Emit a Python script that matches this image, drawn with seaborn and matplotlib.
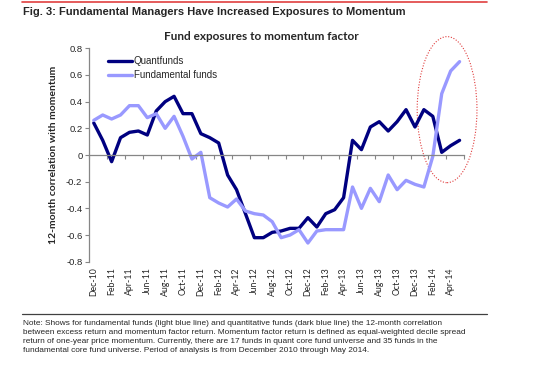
import pandas as pd
import seaborn as sns
import matplotlib.pyplot as plt
from matplotlib.lines import Line2D
from matplotlib.patches import Ellipse

months = list(pd.date_range("2010-12-01", periods=42, freq="MS").strftime("%b-%y"))

quant = [0.24, 0.11, -0.05, 0.13, 0.17, 0.18, 0.15, 0.33, 0.40, 0.44,
         0.31, 0.31, 0.16, 0.13, 0.09, -0.15, -0.26, -0.44, -0.62, -0.62,
         -0.58, -0.57, -0.55, -0.55, -0.47, -0.54, -0.44, -0.41, -0.32, 0.11,
         0.04, 0.21, 0.25, 0.18, 0.25, 0.34, 0.21, 0.34, 0.29, 0.02, 0.07, 0.11]
fundamental = [0.26, 0.30, 0.27, 0.30, 0.37, 0.37, 0.28, 0.31, 0.20, 0.29,
               0.14, -0.03, 0.02, -0.32, -0.36, -0.39, -0.33, -0.42, -0.44, -0.45,
               -0.50, -0.62, -0.60, -0.56, -0.66, -0.57, -0.56, -0.56, -0.56, -0.24,
               -0.40, -0.25, -0.35, -0.15, -0.26, -0.19, -0.22, -0.24, -0.01, 0.46, 0.63, 0.70]
series_names = ["Quantfunds", "Fundamental funds"]
colors = ["#000080", "#9999FF"]
yticks = [-0.8, -0.6, -0.4, -0.2, 0, 0.2, 0.4, 0.6, 0.8]

note = ("Note: Shows for fundamental funds (light blue line) and quantitative funds (dark blue line) the 12-month correlation\n"
        "between excess return and momentum factor return. Momentum factor return is defined as equal-weighted decile spread\n"
        "return of one-year price momentum. Currently, there are 17 funds in quant core fund universe and 35 funds in the\n"
        "fundamental core fund universe. Period of analysis is from December 2010 through May 2014.")

sns.set_style("white")
plt.rcParams["font.family"] = ["Liberation Sans", "DejaVu Sans"]

df = pd.DataFrame({
    "idx": list(range(len(months))) * 2,
    "value": quant + fundamental,
    "series": [series_names[0]] * len(quant) + [series_names[1]] * len(fundamental),
})

fig = plt.figure(figsize=(5.5, 3.66), dpi=100)
ax = fig.add_axes([0.1624, 0.285, 0.6813, 0.583])

sns.lineplot(data=df, x="idx", y="value", hue="series", hue_order=series_names,
             palette=colors, linewidth=2.4, ax=ax, legend=False)

ax.set_xlim(-0.5, len(months) - 0.5)
ax.set_ylim(-0.8, 0.8)
ax.set_yticks(yticks)
ax.set_yticklabels([f"{v:g}" for v in yticks], fontsize=6.8)
ax.tick_params(axis="y", length=3, width=0.8, color="#868686", pad=2, direction="out", left=True)

for s in ["top", "right"]:
    ax.spines[s].set_visible(False)
ax.spines["left"].set_color("#868686")
ax.spines["left"].set_linewidth(0.9)
ax.spines["bottom"].set_position(("data", 0))
ax.spines["bottom"].set_color("#868686")
ax.spines["bottom"].set_linewidth(0.9)
ax.set_xticks([i - 0.5 for i in range(0, len(months) + 1, 2)])
ax.set_xticklabels([])
ax.tick_params(axis="x", length=3, width=0.8, color="#868686", direction="out", bottom=True)

sec = ax.secondary_xaxis("bottom")
sec.spines["bottom"].set_visible(False)
sec.set_xticks(range(0, len(months), 2))
sec.set_xticklabels(months[::2], rotation=90, fontsize=6.3, family=["Lato", "DejaVu Sans"])
sec.tick_params(length=0, pad=4)

ax.set_xlabel("")
ax.set_ylabel("12-month correlation with momentum", fontsize=7.5, fontweight="bold",
              family=["Lato", "DejaVu Sans"], labelpad=6)

handles = [Line2D([], [], color=c, lw=2.4) for c in colors]
ax.legend(handles, series_names, loc="upper left", bbox_to_anchor=(0.035, 0.99),
          frameon=False, fontsize=7, handlelength=2.4, handletextpad=0.2,
          labelspacing=0.4, borderaxespad=0.2)

ax.add_patch(Ellipse((39.6, 0.34), 6.7, 1.095, fill=False, ec="#E03C3C",
                     ls=(0, (1, 1.5)), lw=0.8, clip_on=False))

fig.text(261 / 550, 1 - 37 / 366, "Fund exposures to momentum factor", fontsize=8.5,
         fontweight="bold", family=["Lato", "DejaVu Sans"], ha="center", va="center")
fig.add_artist(Line2D([22 / 550, 487 / 550], [1 - 1.5 / 366] * 2, color="#E04040", lw=1.2))
fig.text(23 / 550, 1 - 7 / 366, "Fig. 3: Fundamental Managers Have Increased Exposures to Momentum",
         fontsize=8.0, fontweight="bold", va="top", ha="left")
fig.add_artist(Line2D([22 / 550, 487 / 550], [1 - 314 / 366] * 2, color="#404040", lw=0.9))
fig.text(23 / 550, 1 - 320 / 366, note, fontsize=5.95, va="top", ha="left", linespacing=1.42)

fig.savefig("out.png", dpi=100)
